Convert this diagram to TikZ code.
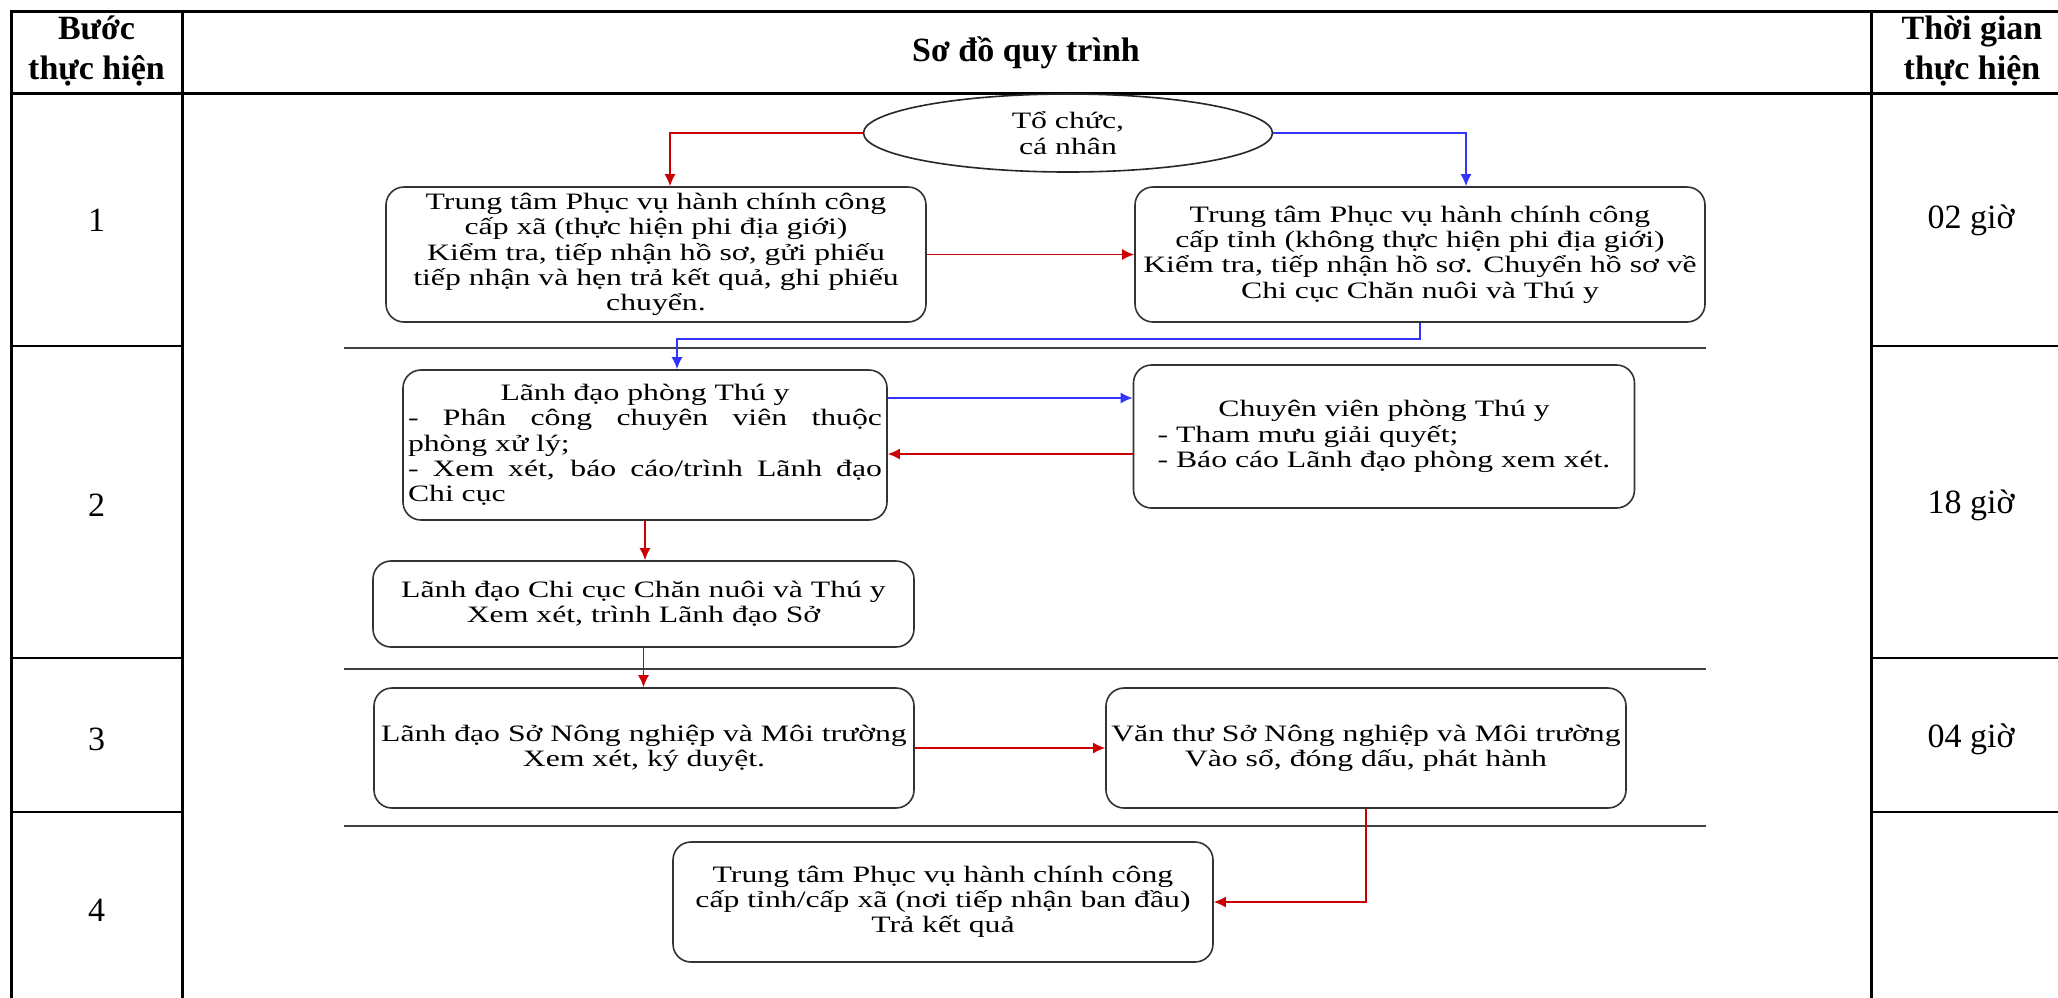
\documentclass[tikz,border=0pt]{standalone}
\usepackage{fontspec}
\setmainfont{Liberation Serif}
\newfontfamily\flowfont[FakeStretch=1.35]{Liberation Serif}
\usetikzlibrary{shapes.geometric,arrows.meta}
\definecolor{flowred}{RGB}{204,0,0}
\definecolor{flowblue}{RGB}{51,51,255}

\begin{document}
\begin{tikzpicture}[x=1pt,y=-1pt,>={Latex[length=12pt,width=11pt]},
    box node/.style={draw=black!80,line width=1.6pt,rounded corners=18pt,inner sep=2pt,align=center,font=\flowfont\fontsize{23.5}{25.3}\selectfont},
    org node/.style={draw=black!85,line width=1.6pt,ellipse,inner sep=0pt,minimum width=409pt,minimum height=78pt,align=center,font=\flowfont\fontsize{23.5}{25.3}\selectfont},
    head node/.style={align=center,font=\bfseries\fontsize{34}{40}\selectfont},
    cell node/.style={font=\fontsize{34}{40}\selectfont},
    red arrow/.style={->,draw=flowred,line width=1.6pt},
    blue arrow/.style={->,draw=flowblue,line width=1.6pt},
    lane/.style={draw=black!75,line width=2pt}]

    \clip (0,0) rectangle (2058,997);
    \fill[white] (0,0) rectangle (2058,997);

    \draw[line width=3pt] (11,1010) -- (11,11) -- (2075,11) -- (2075,1010);
    \draw[line width=3pt] (11,93) -- (2075,93);
    \draw[line width=3pt] (182,11) -- (182,1010);
    \draw[line width=3pt] (1871,11) -- (1871,1010);
    \foreach \y in {346,658,812} {
        \draw[line width=2.5pt] (11,\y) -- (182,\y);
        \draw[line width=2.5pt] (1871,\y) -- (2075,\y);
    }
    \foreach \y in {348,669,826}
        \draw[lane] (344,\y) -- (1706,\y);

    \node[head node] (hbuoc) at (96.5,51) {Bước\\thực hiện};
    \node[head node] (hsodo) at (1026,53) {Sơ đồ quy trình};
    \node[head node] (htg) at (1972,51) {Thời gian\\thực hiện};

    \foreach \n/\y in {1/220,2/505,3/739,4/910}
        \node[cell node] (s\n) at (96.5,\y) {\n};
    \foreach \n/\y/\t in {1/220/02 giờ,2/505/18 giờ,3/739/04 giờ}
        \node[cell node] (t\n) at (1971,\y) {\t};

    \node[org node] (org) at (1068,133) {Tổ chức,\\cá nhân};
    \node[box node,minimum width=540pt,minimum height=135pt] (xa) at (656,254.5) {Trung tâm Phục vụ hành chính công\\cấp xã (thực hiện phi địa giới)\\Kiểm tra, tiếp nhận hồ sơ, gửi phiếu\\tiếp nhận và hẹn trả kết quả, ghi phiếu\\chuyển.};
    \node[box node,minimum width=570pt,minimum height=135pt] (tinh) at (1420,254.5) {Trung tâm Phục vụ hành chính công\\cấp tỉnh (không thực hiện phi địa giới)\\Kiểm tra, tiếp nhận hồ sơ. Chuyển hồ sơ về\\Chi cục Chăn nuôi và Thú y};
    \node[box node,align=left,minimum width=484pt,minimum height=150pt] (ldp) at (645,445) {\makebox[474pt]{Lãnh đạo phòng Thú y}\\\makebox[474pt][s]{- Phân công chuyên viên thuộc}\\phòng xử lý;\\\makebox[474pt][s]{- Xem xét, báo cáo/trình Lãnh đạo}\\Chi cục};
    \node[box node,align=left,minimum width=501pt,minimum height=143pt] (cvp) at (1384,436.5) {\makebox[453pt]{Chuyên viên phòng Thú y}\\- Tham mưu giải quyết;\\- Báo cáo Lãnh đạo phòng xem xét.};
    \node[box node,minimum width=541pt,minimum height=86pt] (ldcc) at (643.5,604) {Lãnh đạo Chi cục Chăn nuôi và Thú y\\Xem xét, trình Lãnh đạo Sở};
    \node[box node,minimum width=540pt,minimum height=120pt] (lds) at (644,748) {Lãnh đạo Sở Nông nghiệp và Môi trường\\Xem xét, ký duyệt.};
    \node[box node,minimum width=520pt,minimum height=120pt] (vt) at (1366,748) {Văn thư Sở Nông nghiệp và Môi trường\\Vào sổ, đóng dấu, phát hành};
    \node[box node,minimum width=540pt,minimum height=120pt] (tkq) at (943,902) {Trung tâm Phục vụ hành chính công\\cấp tỉnh/cấp xã (nơi tiếp nhận ban đầu)\\Trả kết quả};

    \coordinate (r1) at (670,133);
    \coordinate (b1) at (1466,133);
    \coordinate (b2) at (677,339);

    \draw[red arrow] (org.west) -- (r1) -- (r1 |- xa.north);
    \draw[blue arrow] (org.east) -- (b1) -- (b1 |- tinh.north);
    \draw[red arrow] (xa.east) -- (tinh.west);
    \draw[blue arrow] (tinh.south) |- (b2) -- (b2 |- ldp.north);
    \draw[blue arrow] ([yshift=47pt]ldp.east) -- ([yshift=47pt]ldp.east -| cvp.west);
    \draw[red arrow] ([yshift=-9pt]ldp.east -| cvp.west) -- ([yshift=-9pt]ldp.east);
    \draw[red arrow] (ldp.south) -- (ldp.south |- ldcc.north);
    \draw[red arrow] (ldcc.south) -- (ldcc.south |- lds.north);
    \draw[red arrow] (lds.east) -- (vt.west);
    \draw[red arrow] (vt.south) |- (tkq.east);
\end{tikzpicture}
\end{document}
